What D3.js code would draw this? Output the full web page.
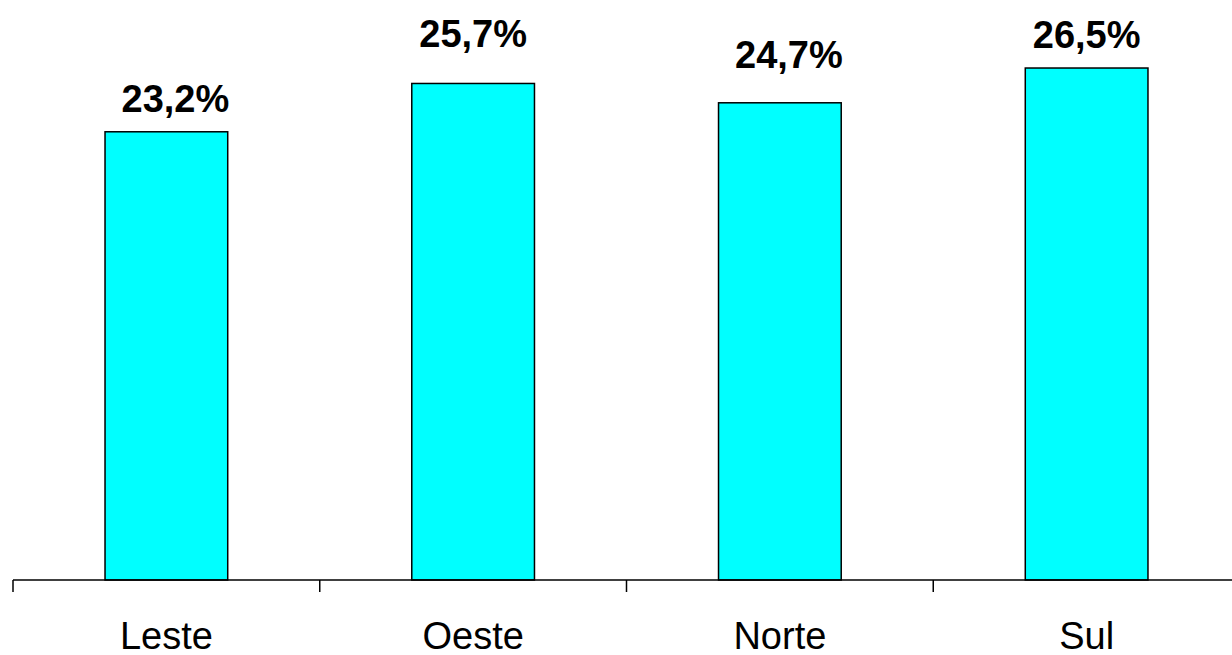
<!DOCTYPE html>
<html><head><meta charset="utf-8">
<script src="https://cdn.jsdelivr.net/npm/d3@7"></script>
<style>html,body{margin:0;padding:0;background:#fff;}svg{display:block;}</style>
</head><body>
<svg id="chart" width="1232" height="655"></svg>
<script>
const categories = ["Leste", "Oeste", "Norte", "Sul"];
const values = [23.2, 25.7, 24.7, 26.5];
const valueLabels = ["23,2%", "25,7%", "24,7%", "26,5%"];

// manual label nudges (pixels) as placed in the original
const labelDx = [9, 0, 9, 0];
const labelGap = [20, 36, 35, 20];

const svg = d3.select("#chart");
const x = d3.scaleBand().domain(categories).range([13, 1240]).paddingInner(0.6).paddingOuter(0.3);
const y = d3.scaleLinear().domain([0, 30]).range([580, 0.4]);

// bars
svg.selectAll("rect.bar").data(values).join("rect")
  .attr("class", "bar")
  .attr("x", (d, i) => x(categories[i]))
  .attr("width", x.bandwidth())
  .attr("y", d => y(d))
  .attr("height", d => y(0) - y(d))
  .attr("fill", "#00FFFF")
  .attr("stroke", "#000")
  .attr("stroke-width", 1.5);

// axis
const xb = d3.scaleBand().domain(categories).range([13, 1240]);
const axis = svg.append("g").attr("transform", `translate(0,${y(0)})`)
  .call(d3.axisBottom(xb).tickSize(0).tickPadding(42));
axis.select(".domain").remove();
axis.append("line").attr("x1", 13).attr("x2", 1232).attr("y1", 0).attr("y2", 0)
  .attr("stroke", "#000").attr("stroke-width", 1.5);
axis.selectAll(".sep").data(categories).join("line").attr("class", "sep")
  .attr("x1", d => xb(d)).attr("x2", d => xb(d))
  .attr("y1", 0).attr("y2", 12)
  .attr("stroke", "#000").attr("stroke-width", 1.5);
axis.selectAll(".tick text")
  .attr("font-family", "Arial, Liberation Sans, sans-serif")
  .attr("font-size", 38).attr("fill", "#000")
  .attr("dy", "0.71em");

// value labels
svg.selectAll("text.val").data(values).join("text")
  .attr("class", "val")
  .attr("x", (d, i) => x(categories[i]) + x.bandwidth() / 2 + labelDx[i])
  .attr("y", (d, i) => y(d) - labelGap[i])
  .attr("text-anchor", "middle")
  .attr("font-family", "Arial, Liberation Sans, sans-serif")
  .attr("font-weight", "bold")
  .attr("font-size", 38)
  .attr("fill", "#000")
  .text((d, i) => valueLabels[i]);
</script>
</body></html>
